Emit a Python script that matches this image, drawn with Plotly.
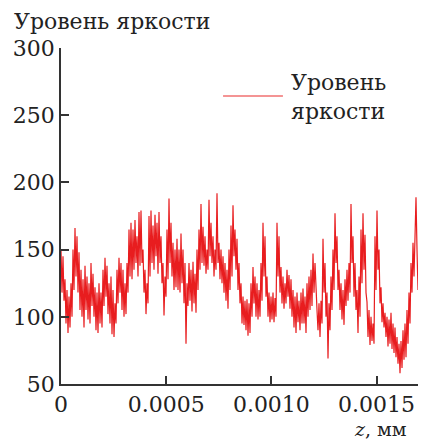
import numpy as np
import plotly.graph_objects as go

# Brightness level samples (one per screen column, alternating upper/lower envelope)
brightness = [
    150, 118, 145, 112, 128, 95, 120, 88, 115, 92,
    125, 100, 150, 120, 166, 130, 160, 118, 148, 105,
    135, 100, 128, 92, 138, 105, 130, 98, 125, 95,
    140, 108, 132, 100, 122, 90, 118, 88, 125, 95,
    118, 92, 135, 108, 144, 115, 138, 102, 125, 95,
    130, 87, 120, 85, 110, 95, 135, 110, 144, 118,
    140, 105, 135, 100, 125, 102, 140, 118, 165, 130,
    170, 128, 165, 135, 172, 140, 160, 130, 178, 138,
    179, 140, 150, 118, 135, 102, 125, 110, 175, 130,
    179, 140, 168, 135, 176, 145, 170, 132, 178, 140,
    160, 125, 140, 101, 130, 115, 165, 128, 188, 140,
    170, 130, 155, 120, 150, 122, 158, 120, 150, 118,
    162, 125, 150, 110, 140, 80, 125, 108, 140, 112,
    135, 104, 141, 110, 132, 103, 150, 120, 165, 135,
    184, 140, 167, 138, 160, 132, 150, 135, 187, 145,
    170, 140, 160, 130, 150, 135, 192, 140, 155, 128,
    150, 125, 145, 118, 140, 112, 135, 106, 150, 120,
    168, 130, 183, 145, 165, 135, 158, 120, 140, 110,
    125, 95, 115, 94, 112, 90, 113, 86, 110, 88,
    125, 100, 137, 110, 130, 100, 125, 98, 120, 100,
    140, 112, 170, 130, 160, 115, 130, 100, 118, 96,
    115, 98, 118, 96, 114, 100, 170, 130, 160, 118,
    137, 110, 130, 106, 125, 110, 135, 115, 131, 106,
    128, 100, 120, 92, 115, 88, 118, 96, 112, 90,
    118, 95, 121, 95, 115, 88, 125, 100, 130, 105,
    135, 108, 147, 118, 140, 112, 105, 90, 110, 85,
    112, 95, 158, 118, 140, 100, 118, 69, 110, 90,
    130, 105, 150, 120, 177, 140, 160, 120, 135, 105,
    125, 98, 120, 94, 128, 108, 135, 112, 140, 118,
    184, 140, 160, 115, 140, 105, 120, 88, 130, 100,
    165, 125, 177, 135, 161, 118, 111, 85, 105, 79,
    100, 82, 95, 80, 160, 120, 179, 135, 150, 110,
    122, 96, 110, 92, 103, 85, 100, 78, 98, 80,
    103, 76, 95, 73, 92, 70, 85, 65, 80, 58,
    82, 62, 90, 68, 95, 70, 105, 80, 118, 95,
    140, 118, 155, 130, 160, 189, 150, 120, 130, 100,
    100, 75, 95, 70, 92, 80,
]
Z_MAX = 0.001735  # mm, extent of the scan
z = np.linspace(0, Z_MAX, len(brightness))

x_tickvals = [0, 0.0005, 0.0010, 0.0015]
x_ticktext = ["0", "0.0005", "0.0010", "0.0015"]
y_tickvals = [50, 100, 150, 200, 250, 300]

FONT = "DejaVu Serif"
RED = "#e81d1f"
TXT = "#222222"

fig = go.Figure()
fig.add_trace(go.Scatter(x=z, y=brightness, mode="lines",
                         line=dict(color=RED, width=1.2), showlegend=False))

axis_common = dict(showline=True, linecolor="#333333", linewidth=1.5,
                   ticks="inside", ticklen=8, tickwidth=1.5, tickcolor="#333333",
                   showgrid=False, zeroline=False, automargin=False,
                   tickfont=dict(family=FONT, size=22, color=TXT))

fig.update_xaxes(range=[0, Z_MAX], tickvals=x_tickvals, ticktext=x_ticktext, **axis_common)
fig.update_yaxes(range=[50, 300], tickvals=y_tickvals, **axis_common)

# page body adds an 8px offset, so the figure is 8px smaller than the window
fig.update_layout(
    width=418, height=433,
    margin=dict(l=53, r=0, t=40, b=57),
    plot_bgcolor="white", paper_bgcolor="white",
    font=dict(family=FONT, size=22, color=TXT),
    annotations=[
        dict(text="Уровень яркости", xref="paper", yref="paper", x=-0.135, y=1.08,
             xanchor="left", yanchor="middle", showarrow=False,
             font=dict(family=FONT, size=22, color=TXT)),
        dict(text="<i>z</i>, мм", xref="paper", yref="paper", x=0.875, y=-0.133,
             xanchor="center", yanchor="middle", showarrow=False,
             font=dict(family=FONT, size=19, color=TXT)),
        dict(text="Уровень<br>яркости", xref="paper", yref="paper", x=0.625, y=0.855,
             xanchor="left", yanchor="middle", showarrow=False, align="left",
             font=dict(family=FONT, size=22, color=TXT)),
    ],
    shapes=[
        dict(type="line", xref="paper", yref="paper", x0=0.444, x1=0.608, y0=0.857, y1=0.857,
             line=dict(color="#f07070", width=1.5)),
    ],
)

fig.write_html("out.html")
